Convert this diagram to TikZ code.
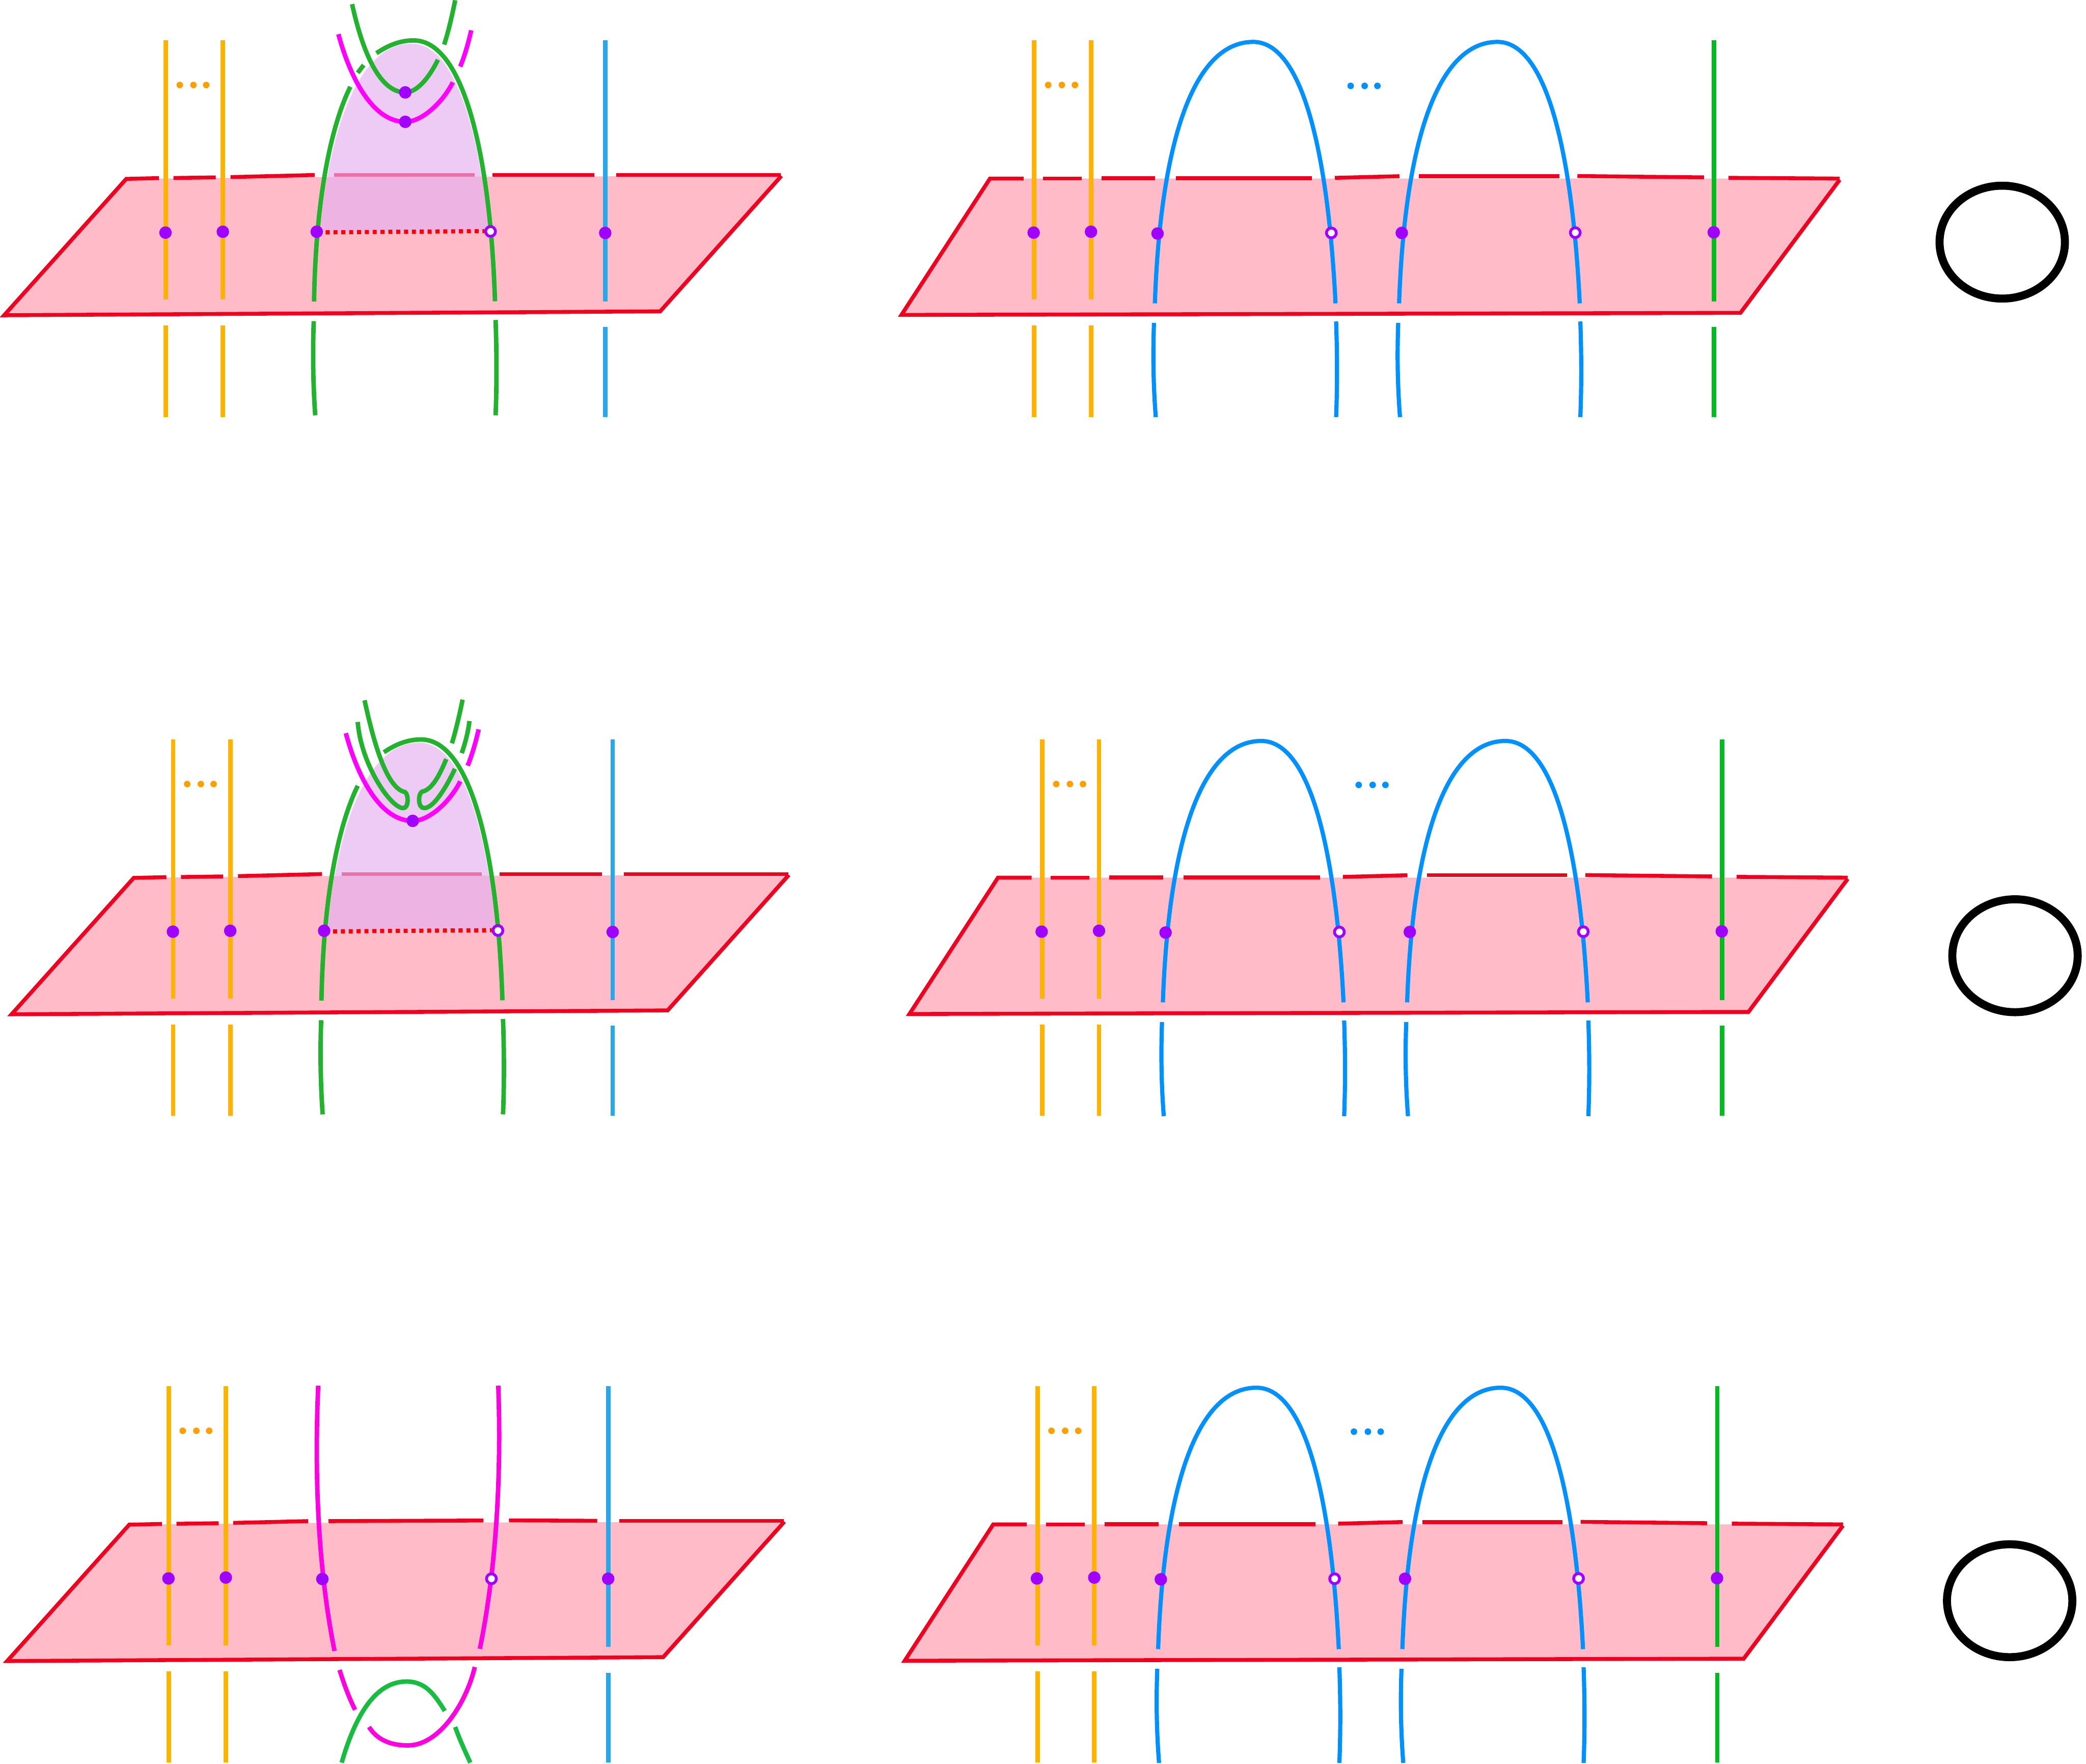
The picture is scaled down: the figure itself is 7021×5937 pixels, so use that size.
\documentclass[tikz,border=0pt]{standalone}
\usepackage{xcolor}
\usetikzlibrary{shapes.geometric}

\definecolor{sheetpink}{HTML}{FFBBC8}
\definecolor{rimred}{HTML}{F0001E}
\definecolor{dotred}{HTML}{FF0000}
\definecolor{discviolet}{RGB}{228,176,240}
\definecolor{ptpurple}{HTML}{A000FF}
\definecolor{amberline}{HTML}{FFB300}
\definecolor{amberdot}{HTML}{FF9F00}
\definecolor{skyline}{HTML}{28A8E8}
\definecolor{blueline}{HTML}{0090FF}
\definecolor{darkgreen}{HTML}{22B22E}
\definecolor{lightgreen}{HTML}{18BC40}
\definecolor{puregreen}{HTML}{00BC1E}
\definecolor{clasppink}{HTML}{FF00FF}
\definecolor{legpink}{HTML}{FF00E0}

\begin{document}
\begin{tikzpicture}[x=0.1mm, y=-0.1mm]

        \useasboundingbox (0, 0) rectangle (7021, 5937);

        \tikzset{
            sheet/.style={fill=sheetpink},
            rim/.style={draw=rimred, line width=1.3mm},
            strand/.style={line width=1.5mm},
            thread/.style={line width=1.5mm},
            arcline/.style={draw=blueline, line width=1.4mm},
            puncture/.style={circle, fill=ptpurple, inner sep=0pt, outer sep=0pt, minimum size=4.2mm},
            hollow/.style={circle, draw=ptpurple, fill=white, line width=.95mm, inner sep=0pt, outer sep=0pt, minimum size=3.3mm},
            dotmark/.style={circle, inner sep=0pt, outer sep=0pt, minimum size=2.2mm},
            loopring/.style={ellipse, draw=black, line width=2.7mm, inner sep=0pt, outer sep=0pt, minimum width=42.2mm, minimum height=38mm}
        }

        % The sheet and straight strands of the left panels
        \def\leftsheet{
            \fill[sheet] (425, 602) -- (1060, 596) -- (2630, 592) -- (2222, 1048) -- (14, 1061) -- cycle;
            \draw[rim] (584, 599) -- (726, 597);
            \draw[rim] (2074, 589) -- (2628, 589);
            \draw[rim] (2630, 592) -- (2222, 1048) -- (14, 1061) -- (425, 602) -- (535, 599.4);
            \foreach \x in {558, 750} {
                \draw[strand, amberline] (\x, 136) -- (\x, 1008);
                \draw[strand, amberline] (\x, 1096) -- (\x, 1403);
            }
            \draw[strand, skyline] (2037, 136) -- (2037, 1014);
            \draw[strand, skyline] (2037, 1100) -- (2037, 1403);
            \foreach \n/\x in {T1/605, T2/651, T3/694}
                \node[dotmark, fill=amberdot] (\n) at (\x, 286) {};
        }

        % The green arc, the disc and the dotted line
        \def\leftdisc{
            \draw[rim] (776, 596) -- (1059, 589);
            \draw[rim] (1657, 589) -- (2001, 589);
            \draw[rim] (1125, 589) -- (1597, 589);
            \draw[thread, darkgreen] (1057, 1015) .. controls (1062, 711) and (1103, 448) .. (1179, 292);
            \draw[thread, darkgreen] (1056, 1081) .. controls (1052, 1190) and (1054, 1300) .. (1061, 1398);
            \draw[thread, darkgreen] (1668, 1077) .. controls (1672, 1190) and (1672, 1300) .. (1668, 1398);
            \fill[discviolet, opacity=.66] (1079, 781) .. controls (1095, 560) and (1170, 147) .. (1386, 147) .. controls (1545, 147) and (1620, 500) .. (1642, 778) -- cycle;
            \draw[thread, darkgreen] (1666, 1014) .. controls (1650, 520) and (1560, 136) .. (1392, 136) .. controls (1350, 136) and (1310, 150) .. (1267, 179);
            \draw[line width=1.4mm, dotred, dash pattern=on 1.35mm off 1.29mm] (1096, 782) -- (1630, 778);
        }

        \def\claspstrand{
            \draw[thread, clasppink] (1139, 115) .. controls (1175, 250) and (1250, 410) .. (1364, 410) .. controls (1420, 410) and (1490, 345) .. (1524, 277);
            \draw[thread, clasppink] (1549, 224) .. controls (1563, 190) and (1575, 150) .. (1586, 102);
        }

        \def\leftmarks{
            \node[puncture] (Q1) at (557, 783) {};
            \node[puncture] (Q2) at (750, 780) {};
            \node[puncture] (Q5) at (2037, 784) {};
        }

        % The right panel, the same in all three rows
        \def\rightsheet{
            \fill[sheet] (3332, 601) -- (6192, 601) -- (5858, 1053) -- (3034, 1060) -- cycle;
            \draw[rim] (3510, 601) -- (3640, 601);
            \draw[rim] (3707, 600) -- (3888, 600);
            \draw[rim] (3957, 600) -- (4416, 600);
            \draw[rim] (4493, 598.6) -- (4710, 593);
            \draw[rim] (4776, 593) -- (5248, 593);
            \draw[rim] (5309, 592.5) -- (5735, 597);
            \draw[rim] (5818, 598.5) -- (6192, 601);
            \draw[rim] (6192, 605) -- (5858, 1053) -- (3034, 1060) -- (3332, 601) -- (3445, 601);
            \foreach \x in {3481, 3672} {
                \draw[strand, amberline] (\x, 136) -- (\x, 1008);
                \draw[strand, amberline] (\x, 1096) -- (\x, 1403);
            }
            \foreach \dx in {0, 822} {
                \draw[arcline] ({3887+\dx}, 1021) .. controls ({3905+\dx}, 500) and ({4010+\dx}, 141) .. ({4218+\dx}, 141) .. controls ({4385+\dx}, 141) and ({4470+\dx}, 520) .. ({4495+\dx}, 1021);
                \draw[arcline] ({3884+\dx}, 1087) .. controls ({3880+\dx}, 1200) and ({3882+\dx}, 1300) .. ({3890+\dx}, 1404);
                \draw[arcline] ({4497+\dx}, 1082) .. controls ({4501+\dx}, 1200) and ({4501+\dx}, 1300) .. ({4497+\dx}, 1404);
            }
            \draw[strand, puregreen] (5769, 136) -- (5769, 1014);
            \draw[strand, puregreen] (5769, 1100) -- (5769, 1403);
            \foreach \n/\x in {O1/3528, O2/3574, O3/3618}
                \node[dotmark, fill=amberdot] (\n) at (\x, 286) {};
            \foreach \n/\x in {B1/4546, B2/4593, B3/4636}
                \node[dotmark, fill=blueline] (\n) at (\x, 289) {};
            \node[puncture] (P1) at (3479, 783) {};
            \node[puncture] (P2) at (3672, 780) {};
            \node[puncture] (P3) at (3896, 786) {};
            \node[hollow] (P4) at (4481, 784) {};
            \node[puncture] (P5) at (4718, 784) {};
            \node[hollow] (P6) at (5302, 783) {};
            \node[puncture] (P7) at (5768, 782) {};
        }

        % Top row
        \begin{scope}[name prefix=a-]
            \leftsheet
            \leftdisc
            \draw[thread, darkgreen] (1204, 245) -- (1224, 219);
            \draw[thread, darkgreen] (1185, 14) .. controls (1215, 150) and (1270, 311) .. (1364, 311) .. controls (1400, 311) and (1440, 270) .. (1474, 201);
            \draw[thread, darkgreen] (1495, 150) .. controls (1508, 110) and (1520, 60) .. (1532, 1);
            \claspstrand
            \leftmarks
            \node[puncture] (Q3) at (1066, 780) {};
            \node[hollow] (Q4) at (1651, 779) {};
            \node[puncture] (D1) at (1364, 311) {};
            \node[puncture] (D2) at (1364, 410) {};
            \rightsheet
            \node[loopring] (C) at (6739, 815) {};
        \end{scope}

        % Middle row
        \begin{scope}[name prefix=b-, shift={(25, 2353)}]
            \leftsheet
            \leftdisc
            \draw[thread, darkgreen] (1202, 4) .. controls (1225, 110) and (1270, 300) .. (1338, 313) .. controls (1350, 320) and (1352, 367) .. (1332, 367) .. controls (1290, 367) and (1190, 220) .. (1179, 77);
            \draw[thread, darkgreen] (1477, 202) .. controls (1455, 255) and (1430, 305) .. (1395, 312) .. controls (1382, 320) and (1380, 367) .. (1403, 367) .. controls (1440, 367) and (1490, 270) .. (1506, 235);
            \draw[thread, darkgreen] (1496, 149) .. controls (1508, 110) and (1520, 60) .. (1532, 2);
            \draw[thread, darkgreen] (1529, 182) .. controls (1540, 150) and (1550, 115) .. (1555, 74);
            \claspstrand
            \leftmarks
            \node[puncture] (Q3) at (1066, 780) {};
            \node[hollow] (Q4) at (1651, 779) {};
            \node[puncture] (D2) at (1364, 410) {};
        \end{scope}
        \begin{scope}[name prefix=b-, shift={(27, 2353)}]
            \rightsheet
        \end{scope}
        \node[loopring] (b-C) at (6782, 3217) {};

        % Bottom row
        \begin{scope}[name prefix=c-, shift={(10, 4530)}]
            \leftsheet
            \draw[rim] (775, 596) -- (1027, 590);
            \draw[rim] (1096, 590) -- (1617, 588);
            \draw[rim] (1703, 587.5) -- (2000, 589);
            \draw[thread, legpink] (1061, 134) .. controls (1045, 500) and (1070, 800) .. (1116, 1027);
            \draw[thread, legpink] (1667, 134) .. controls (1680, 500) and (1650, 800) .. (1605, 1020);
            \draw[thread, legpink] (1133, 1091) .. controls (1148, 1140) and (1165, 1185) .. (1185, 1225);
            \draw[thread, legpink] (1232, 1283) .. controls (1265, 1335) and (1320, 1345) .. (1363, 1345) .. controls (1470, 1345) and (1560, 1200) .. (1588, 1081);
            \draw[thread, lightgreen] (1140, 1403) .. controls (1190, 1230) and (1260, 1130) .. (1358, 1130) .. controls (1420, 1130) and (1450, 1170) .. (1487, 1229);
            \draw[thread, lightgreen] (1522, 1283) .. controls (1535, 1320) and (1553, 1360) .. (1573, 1403);
            \leftmarks
            \node[puncture] (Q3) at (1075, 785) {};
            \node[hollow] (Q4) at (1644, 784) {};
        \end{scope}
        \begin{scope}[name prefix=c-, shift={(11, 4530)}]
            \rightsheet
        \end{scope}
        \node[loopring] (c-C) at (6764, 5388) {};

\end{tikzpicture}
\end{document}
